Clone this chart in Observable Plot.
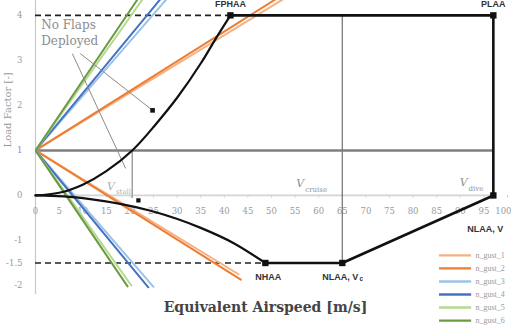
<!DOCTYPE html>
<html>
<head>
<meta charset="utf-8">
<script src="https://cdn.jsdelivr.net/npm/d3@7"></script>
<script src="https://cdn.jsdelivr.net/npm/@observablehq/plot@0.6"></script>
<style>
  html, body { margin: 0; padding: 0; background: #fff; }
  #chart { width: 511px; height: 332px; overflow: hidden; }
</style>
</head>
<body>
<div id="chart"></div>
<script>
// ---- data ----
const vTicks = [0,5,10,15,20,25,30,35,40,45,50,55,60,65,70,75,80,85,90,95,100];
const nTicks = [4,3,2,1,0,-1,-1.5,-2];

// positive stall curve (0,0) -> FPHAA
const posStallV = [0, 5, 10, 15, 20.5, 25, 30, 35, 38, 41.3];
const posStallN = [0, 0.06, 0.24, 0.54, 1.0, 1.52, 2.17, 2.93, 3.45, 4.0];
// negative stall curve (0,0) -> NHAA
const negStallV = [0, 6, 11.6, 24.4, 35, 42, 48.7];
const negStallN = [0, -0.02, -0.08, -0.34, -0.72, -1.06, -1.5];

// envelope corner points
const envNames = ["FPHAA", "PLAA", "VD0", "NLAA", "NHAA"];
const envV = [41.3, 97, 97, 65, 48.7];
const envN = [4, 4, 0, -1.5, -1.5];

// reference speeds
const vStall = 20.5;
const vCruise = 65;
const vDive = 97;
const nMax = 4;
const nMin = -1.5;

// gust lines (each a V from (0,1))
const gustNames = ["n_gust_1", "n_gust_2", "n_gust_3", "n_gust_4", "n_gust_5", "n_gust_6"];
const gustVUp = [60, 60, 30, 30, 25, 25];
const gustNUp = [4.84, 4.96, 4.63, 4.81, 4.70, 4.88];
const gustVDown = [43, 43.5, 25, 23.9, 20.3, 19.5];
const gustNDown = [-1.75, -1.87, -2.03, -2.04, -2.0, -2.02];

// annotation leader lines for "No Flaps Deployed"
const leaderV1 = [7.8, 9.5];
const leaderN1 = [3.15, 3.15];
const leaderV2 = [19.1, 24.8];
const leaderN2 = [0.6, 1.89];

// ---- styles ----
const gustColors = ["#f4b183", "#ed7d31", "#9dc3e6", "#4472c4", "#b5d98f", "#6b9a45"];
const serif = "DejaVu Serif, Liberation Serif, serif";
const nserif = "Liberation Serif, serif";
const sans = "Liberation Sans, Arial, sans-serif";

// ---- derived tables ----
const posStall = posStallV.map((v, i) => ({V: v, n: posStallN[i]}));
const negStall = negStallV.map((v, i) => ({V: v, n: negStallN[i]}));
const env = envNames.map((s, i) => ({name: s, V: envV[i], n: envN[i]}));
const gustRows = gustNames.flatMap((s, i) => [
  {s, i, V: gustVUp[i], n: gustNUp[i]},
  {s, i, V: 0, n: 1},
  {s, i, V: gustVDown[i], n: gustNDown[i]}
]);
const leaders = leaderV1.map((v, i) => ({V1: v, n1: leaderN1[i], V2: leaderV2[i], n2: leaderN2[i]}));
const legendRows = gustNames.map((s, i) => ({s, i}));

const yTop = 4.33, yBot = -2.2;
const legY = i => -1.33 - i * 0.29;
const lastTick = vTicks[vTicks.length - 1];

const chart = Plot.plot({
  width: 511,
  height: 332,
  marginLeft: 35,
  marginRight: 4,
  marginTop: 0,
  marginBottom: 38,
  x: {domain: [0, 100], axis: null},
  y: {domain: [yBot, yTop], axis: null},
  style: {background: "#fff", overflow: "visible"},
  marks: [
    // axes lines
    Plot.ruleX([0], {y1: yBot, y2: yTop, stroke: "#c8c8c8", strokeWidth: 1.2}),
    Plot.ruleY([0], {x1: 0, x2: vDive, stroke: "#d4d4d4", strokeWidth: 1.8}),
    // x tick labels along n = 0
    Plot.text(vTicks.filter(d => d !== lastTick), {x: d => d, y: 0, dy: 16, text: d => String(d), fill: "#9a9a9a", fontSize: 8.5, fontFamily: serif}),
    Plot.text([lastTick], {x: d => d, y: 0, dy: 16, dx: 4, textAnchor: "end", text: d => String(d), fill: "#9a9a9a", fontSize: 8.5, fontFamily: serif}),
    Plot.ruleX(vTicks, {x: d => d, y1: 0, y2: -0.06, stroke: "#d0d0d0"}),
    // y tick labels
    Plot.text(nTicks, {x: 0, y: d => d, dx: -13, textAnchor: "end", text: d => String(d),
      fill: d => d === 1 ? "#8a8ad0" : "#9a9a9a", fontSize: 8.5, fontFamily: serif}),
    // n = 1 line
    Plot.ruleY([1], {x1: 0, x2: vDive, stroke: "#7f7f7f", strokeWidth: 2.6}),
    // V_cruise vertical line
    Plot.ruleX([vCruise], {y1: nMin, y2: nMax, stroke: "#7a7a7a", strokeWidth: 1.3}),
    // V_stall vertical
    Plot.ruleX([vStall], {y1: -0.07, y2: 1, stroke: "#a0a0a0", strokeWidth: 1.5}),
    // dashed limit lines
    Plot.ruleY([nMax], {x1: 0, x2: envV[0], stroke: "#222", strokeWidth: 1.6, strokeDasharray: "6,4"}),
    Plot.ruleY([nMin], {x1: 0, x2: envV[4], stroke: "#222", strokeWidth: 1.6, strokeDasharray: "6,4"}),
    // gust lines
    Plot.line(gustRows, {x: "V", y: "n", z: "s", stroke: d => gustColors[d.i], strokeWidth: 2, clip: true}),
    // leader lines
    Plot.link(leaders, {x1: "V1", y1: "n1", x2: "V2", y2: "n2", stroke: "#8a8a8a", strokeWidth: 1}),
    Plot.dot([leaders[1]], {x: "V2", y: "n2", symbol: "square", r: 2.6, fill: "#111"}),
    Plot.dot([{V: 21.8, n: -0.11}], {x: "V", y: "n", symbol: "square", r: 2.4, fill: "#111"}),
    // envelope
    Plot.line(posStall, {x: "V", y: "n", stroke: "#111", strokeWidth: 2.2, curve: "natural"}),
    Plot.line(negStall, {x: "V", y: "n", stroke: "#111", strokeWidth: 2.2, curve: "monotone-x"}),
    Plot.line(env, {x: "V", y: "n", stroke: "#111", strokeWidth: 2.6}),
    Plot.dot(env, {x: "V", y: "n", symbol: "square", r: 3.6, fill: "#111"}),
    // point labels
    Plot.text([env[0]], {x: "V", y: "n", dy: -11, text: "name", fontSize: 9, fontWeight: "bold", fill: "#333", fontFamily: sans}),
    Plot.text([env[1]], {x: "V", y: "n", dy: -11, text: "name", fontSize: 9, fontWeight: "bold", fill: "#333", fontFamily: sans}),
    Plot.text([env[4]], {x: "V", y: "n", dx: 3, dy: 14, text: "name", fontSize: 9, fontWeight: "bold", fill: "#333", fontFamily: sans}),
    Plot.text([env[3]], {x: "V", y: "n", dx: -2, dy: 14, text: d => "NLAA, V", fontSize: 9, fontWeight: "bold", fill: "#333", fontFamily: sans}),
    Plot.text([env[3]], {x: "V", y: "n", dx: 19, dy: 16, text: d => "c", fontSize: 6.5, fontWeight: "bold", fill: "#333", fontFamily: sans}),
    Plot.text([env[2]], {x: "V", y: "n", dx: -26, dy: 34, textAnchor: "start", text: d => "NLAA, V", fontSize: 9, fontWeight: "bold", fill: "#333", fontFamily: sans}),
    // speed labels
    Plot.text([{V: 16, n: 0.2, t: "V"}], {x: "V", y: "n", text: "t", fontSize: 11, fill: "#b0b0b0", fontFamily: serif, fontStyle: "italic"}),
    Plot.text([{V: 16, n: 0.2, t: "stall"}], {x: "V", y: "n", dx: 5, dy: 5, textAnchor: "start", text: "t", fontSize: 7, fill: "#b0b0b0", fontFamily: serif}),
    Plot.text([{V: 56.1, n: 0.26, t: "V"}], {x: "V", y: "n", text: "t", fontSize: 11, fill: "#909090", fontFamily: serif, fontStyle: "italic"}),
    Plot.text([{V: 56.1, n: 0.26, t: "cruise"}], {x: "V", y: "n", dx: 5, dy: 6, textAnchor: "start", text: "t", fontSize: 7, fill: "#909090", fontFamily: serif}),
    Plot.text([{V: 90.7, n: 0.29, t: "V"}], {x: "V", y: "n", text: "t", fontSize: 11, fill: "#909090", fontFamily: serif, fontStyle: "italic"}),
    Plot.text([{V: 90.7, n: 0.29, t: "dive"}], {x: "V", y: "n", dx: 5, dy: 6, textAnchor: "start", text: "t", fontSize: 7, fill: "#909090", fontFamily: serif}),
    // No Flaps Deployed
    Plot.text([{V: 1.2, n: 3.95, t: "No Flaps\nDeployed"}], {x: "V", y: "n", text: "t", textAnchor: "start", lineAnchor: "top", lineHeight: 1.35, fontSize: 12, fill: "#8c8c8c", fontFamily: serif}),
    // legend
    Plot.ruleY(legendRows, {y: d => legY(d.i), x1: 85.6, x2: 92.4, stroke: d => gustColors[d.i], strokeWidth: 2.4}),
    Plot.text(legendRows, {y: d => legY(d.i), x: 93.2, text: "s", textAnchor: "start", fontSize: 8, fill: "#9a9a9a", fontFamily: nserif}),
    // axis titles
    Plot.text(["Equivalent Airspeed [m/s]"], {frameAnchor: "bottom", dx: -6, dy: 17, fontSize: 14, fontWeight: "bold", fill: "#444", fontFamily: serif}),
    Plot.text(["Load Factor [-]"], {frameAnchor: "left", dx: -28, rotate: -90, fontSize: 10, fill: "#9a9a9a", fontFamily: serif})
  ]
});
document.getElementById("chart").appendChild(chart);
</script>
</body>
</html>
